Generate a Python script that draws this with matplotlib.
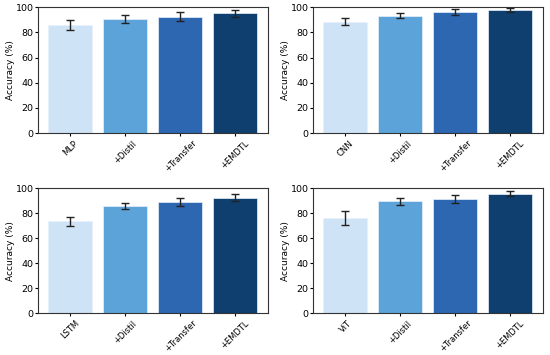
import numpy as np
import matplotlib.pyplot as plt

methods = ['+Distil', '+Transfer', '+EMDTL']
backbones = ['MLP', 'CNN', 'LSTM', 'ViT']

mlp_acc = [85.5, 90.5, 92.5, 95.0]
mlp_err = [4.0, 3.5, 3.5, 2.5]
cnn_acc = [88.5, 93.0, 96.0, 97.5]
cnn_err = [2.5, 2.0, 2.5, 1.5]
lstm_acc = [73.5, 86.0, 89.0, 92.5]
lstm_err = [3.5, 2.5, 3.0, 3.0]
vit_acc = [76.0, 89.5, 91.5, 95.5]
vit_err = [5.5, 3.0, 3.0, 2.0]

colors = ['#cfe3f6', '#5ca3da', '#2d66b1', '#0f3f6e']

data = [(mlp_acc, mlp_err), (cnn_acc, cnn_err), (lstm_acc, lstm_err), (vit_acc, vit_err)]
positions = [[0.069, 0.625, 0.418, 0.355],
             [0.569, 0.625, 0.418, 0.355],
             [0.069, 0.118, 0.418, 0.352],
             [0.569, 0.118, 0.418, 0.352]]

fig = plt.figure(figsize=(5.5, 3.55), dpi=100)

for name, (acc, err), pos in zip(backbones, data, positions):
    ax = fig.add_axes(pos)
    labels = [name] + methods
    x = np.arange(len(labels))
    ax.bar(x, acc, width=0.8, color=colors, edgecolor='#e8f1fa', linewidth=0.5,
           yerr=err, capsize=2.6, error_kw=dict(ecolor='#222222', elinewidth=1, capthick=1))
    ax.set_ylim(0, 100)
    ax.set_yticks([0, 20, 40, 60, 80, 100])
    ax.set_xticks(x)
    ax.set_xticklabels(labels, rotation=45, fontsize=6)
    ax.tick_params(axis='y', labelsize=6.8, length=2.5, pad=0.5)
    ax.tick_params(axis='x', length=2.5, pad=1.5)
    ax.set_ylabel('Accuracy (%)', fontsize=6.5, labelpad=0.5)
    for s in ax.spines.values():
        s.set_color('#333333')

fig.savefig('out.png', dpi=100)
